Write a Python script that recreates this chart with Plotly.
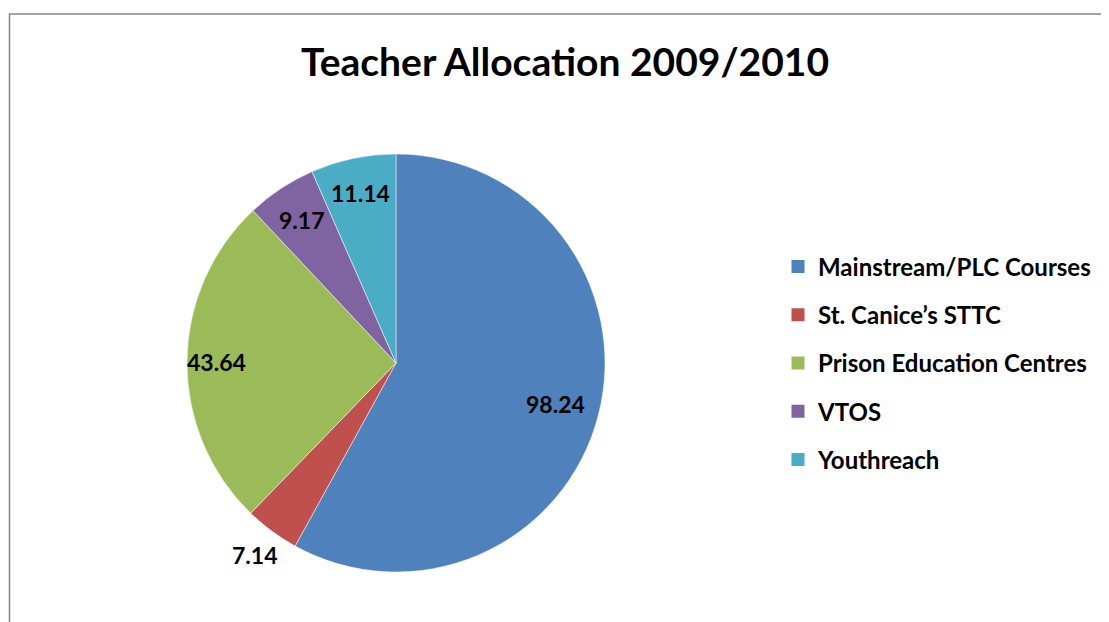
import math
import plotly.graph_objects as go

categories = ["Mainstream/PLC Courses", "St. Canice\u2019s STTC", "Prison Education Centres", "VTOS", "Youthreach"]
values = [98.24, 7.14, 43.64, 9.17, 11.14]
colors = ["#4F81BD", "#C0504D", "#9BBB59", "#8064A2", "#4BACC6"]
# radial placement of each data label, as a fraction of the pie radius (style)
label_radius = [0.79, 1.14, 0.86, 0.82, 0.83]

W, H = 1109, 622
OX, OY = 8, 8  # page body margin compensation
FONT = "Lato"

def px(x):
    return (x - OX) / W

def py(y):
    return 1 - (y - OY) / H

# pie geometry (screen pixels)
cx, cy, R = 396, 363, 209
dom_x = [px(cx - R), px(cx + R)]
dom_y = [py(cy + R), py(cy - R)]

fig = go.Figure()
fig.add_trace(go.Pie(
    labels=categories,
    values=values,
    sort=False,
    direction="clockwise",
    rotation=0,
    marker=dict(colors=colors, line=dict(color="white", width=0.5)),
    textinfo="none",
    showlegend=False,
    hoverinfo="label+value",
    domain=dict(x=dom_x, y=dom_y),
))

# data labels: angles derived from the values (clockwise from 12 o'clock)
total = sum(values)
annotations = []
cum = 0.0
for v, rf in zip(values, label_radius):
    th = math.radians(360.0 * (cum + v / 2) / total)
    cum += v
    lx = cx + rf * R * math.sin(th)
    ly = cy - rf * R * math.cos(th)
    annotations.append(dict(
        x=px(lx), y=py(ly), xref="paper", yref="paper", showarrow=False,
        text=f"<b>{v:g}</b>", xanchor="center", yanchor="middle",
        font=dict(family=FONT, size=23, color="black"),
    ))

for cat, col in zip(categories, colors):
    fig.add_trace(go.Scatter(
        x=[None], y=[None], mode="markers", name=cat,
        marker=dict(symbol="square", size=13, color=col),
        legendgroup=cat, showlegend=True,
    ))

fig.update_layout(
    width=W, height=H,
    margin=dict(l=0, r=0, t=0, b=0),
    paper_bgcolor="white", plot_bgcolor="white",
    title=dict(text="<b>Teacher Allocation 2009/2010</b>", x=px(565), xanchor="center",
               y=py(62), yanchor="middle",
               font=dict(family=FONT, size=39, color="black")),
    xaxis=dict(visible=False), yaxis=dict(visible=False),
    annotations=annotations,
    legend=dict(x=px(778), xanchor="left", y=py(363), yanchor="middle",
                font=dict(family=FONT, size=24, color="black", weight="bold"),
                tracegroupgap=14, bgcolor="rgba(0,0,0,0)"),
    shapes=[dict(type="rect", xref="paper", yref="paper",
                 x0=px(9.5), x1=px(1108), y0=-0.05, y1=py(14),
                 line=dict(color="#868686", width=1.5), fillcolor="rgba(0,0,0,0)")],
)

fig.write_html("out.html")
